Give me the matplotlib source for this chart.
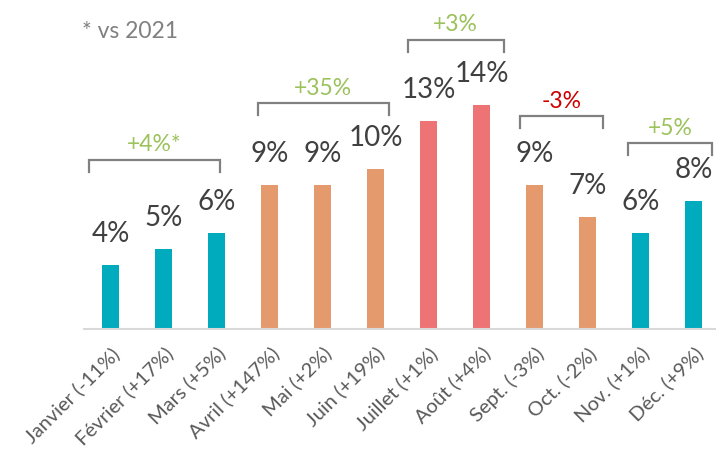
import matplotlib.pyplot as plt

plt.rcParams['font.family'] = ['Lato', 'DejaVu Sans']

mois = ["Janvier (-11%)", "Février (+17%)", "Mars (+5%)", "Avril (+147%)",
        "Mai (+2%)", "Juin (+19%)", "Juillet (+1%)", "Août (+4%)",
        "Sept. (-3%)", "Oct. (-2%)", "Nov. (+1%)", "Déc. (+9%)"]
parts = [4, 5, 6, 9, 9, 10, 13, 14, 9, 7, 6, 8]
saison = ["basse", "basse", "basse", "moyenne", "moyenne", "moyenne",
          "haute", "haute", "moyenne", "moyenne", "basse", "basse"]

# groupes de mois (premier, dernier) et évolution vs année précédente
groupes = [(0, 2), (3, 5), (6, 7), (8, 9), (10, 11)]
evolutions = ["+4%*", "+35%", "+3%", "-3%", "+5%"]

couleurs = {"basse": "#00ABBE", "moyenne": "#E59A6E", "haute": "#EE7374"}
vert, rouge, gris = "#9BC25B", "#CC0000", "#808080"

fig = plt.figure(figsize=(7.16, 4.57), dpi=100)
ax = fig.add_axes([84 / 716, 128 / 457, 636 / 716, 329 / 457])

x = range(len(mois))
ax.bar(x, parts, width=0.33, color=[couleurs[s] for s in saison])
ax.set_xlim(-0.5, 11.5)
ax.set_ylim(0, 329 / 16)

for i, v in zip(x, parts):
    ax.annotate(f"{v}%", (i, v), xytext=(0, 22), textcoords="offset points",
                ha="center", va="center", fontsize=20, color="#404040")

# accolades au-dessus des groupes
marges = [(0.41, 0.07), (0.22, 0.25), (0.39, 0.42), (0.27, 0.29), (0.24, 0.35)]
hauteurs = [4.56, 4.1, 4.06, 4.3, 3.6]
for (a, b), txt, (ga, gb), h in zip(groupes, evolutions, marges, hauteurs):
    top = max(parts[a:b + 1]) + h
    x0, x1 = a - ga, b + gb
    ax.plot([x0, x0, x1, x1], [top - 0.75, top, top, top - 0.75],
            color=gris, lw=1.6, solid_joinstyle="miter", clip_on=False)
    ax.text((x0 + x1) / 2, top + 0.95, txt, ha="center", va="center",
            fontsize=16.5, color=rouge if txt.startswith("-") else vert)

fig.text(82 / 716, 1 - 32 / 457, "* vs 2021", ha="left", va="center",
         fontsize=16.5, color=gris)

ax.set_xticks(list(x))
ax.set_xticklabels(mois, rotation=45, ha="right", rotation_mode="anchor",
                   fontsize=14.5, color="#595959")
ax.tick_params(axis="x", length=0, pad=11)
ax.set_yticks([])
for s in ["top", "right", "left"]:
    ax.spines[s].set_visible(False)
ax.spines["bottom"].set_color("#D9D9D9")
ax.spines["bottom"].set_linewidth(1.5)

fig.savefig("out.png", dpi=100)
